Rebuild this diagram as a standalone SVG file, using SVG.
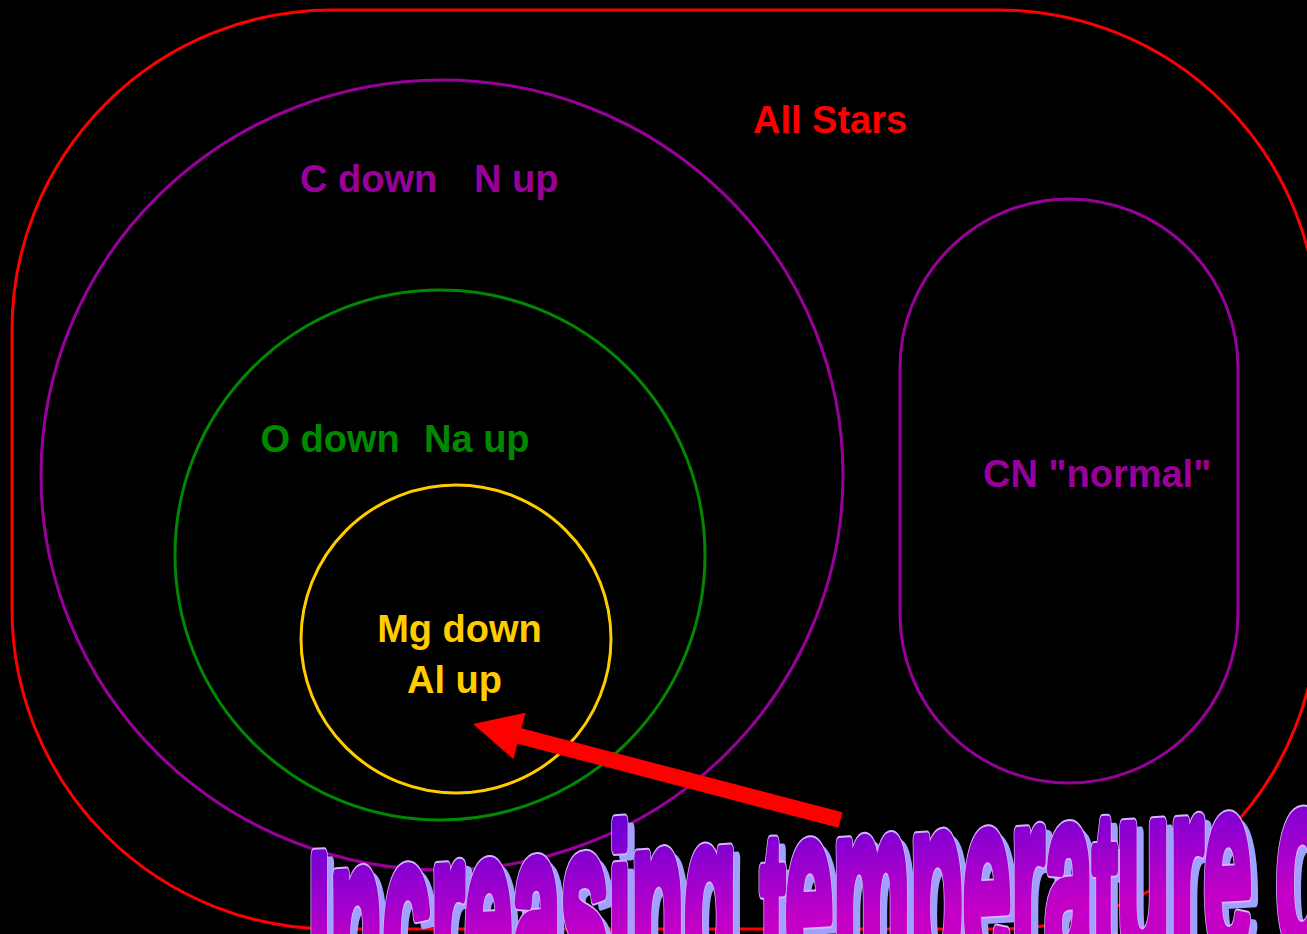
<svg xmlns="http://www.w3.org/2000/svg" width="1307" height="934" viewBox="0 0 1307 934">
<defs>
<style>
.sh{fill:none;stroke-width:3}
.lbl{font-family:"Liberation Sans",Arial,sans-serif;font-weight:bold;font-size:38px}
.wa{font-family:"Liberation Sans",Arial,sans-serif;font-weight:bold;font-size:254px;stroke-linejoin:round}
</style>
<linearGradient id="waGrad" gradientUnits="userSpaceOnUse" x1="0" y1="-170" x2="0" y2="-60">
<stop offset="0" stop-color="#6e00d6"/>
<stop offset="1" stop-color="#c400c6"/>
</linearGradient>
</defs>
<rect x="0" y="0" width="1307" height="934" fill="#000"/>
<g id="all-stars">
<rect class="sh" x="12" y="10" width="1306" height="919" rx="320" ry="320" stroke="#ff0000"/>
<text class="lbl" x="753" y="133" fill="#ff0000">All Stars</text>
</g>
<g id="cn-anomalous">
<ellipse class="sh" cx="442" cy="475" rx="401" ry="395" stroke="#990099"/>
<text class="lbl" x="300" y="192" fill="#990099">C down</text>
<text class="lbl" x="474" y="192" fill="#990099">N up</text>
</g>
<g id="ona">
<ellipse class="sh" cx="440" cy="555" rx="265" ry="265" stroke="#008800"/>
<text class="lbl" x="260.5" y="452" fill="#008800">O down</text>
<text class="lbl" x="424" y="452" fill="#008800">Na up</text>
</g>
<g id="mgal">
<ellipse class="sh" cx="456" cy="639" rx="155" ry="154" stroke="#ffcc00"/>
<text class="lbl" x="459.5" y="642" fill="#ffcc00" text-anchor="middle">Mg down</text>
<text class="lbl" x="454.5" y="693" fill="#ffcc00" text-anchor="middle">Al up</text>
</g>
<g id="cn-normal">
<rect class="sh" x="900" y="199" width="338" height="584" rx="169" ry="169" stroke="#990099"/>
<text class="lbl" x="983" y="487" fill="#990099">CN "normal"</text>
</g>
<g id="connectors">
<polygon points="842.5,812.3 521.5,728.3 525.6,712.8 473,724 513.4,759.2 517.5,743.7 838.5,827.7" fill="#ff0000"/>
</g>
<g id="wordart">
<g transform="translate(315.4,1019) skewY(-3.55) scale(0.3407,1)">
<text class="wa" x="0" y="0" fill="#a0a0ff" stroke="#a0a0ff" stroke-width="14"><tspan font-size="225">I</tspan>ncreas<tspan font-size="234">i</tspan>ng <tspan font-size="214">t</tspan>empera<tspan font-size="214">t</tspan>ure o</text>
</g>
<g transform="translate(308.4,1012) skewY(-3.55) scale(0.3407,1)">
<text class="wa" x="0" y="0" fill="#d4b4ff" stroke="#d4b4ff" stroke-width="18"><tspan font-size="225">I</tspan>ncreas<tspan font-size="234">i</tspan>ng <tspan font-size="214">t</tspan>empera<tspan font-size="214">t</tspan>ure o</text>
<text class="wa" x="0" y="0" fill="url(#waGrad)" stroke="url(#waGrad)" stroke-width="14"><tspan font-size="225">I</tspan>ncreas<tspan font-size="234">i</tspan>ng <tspan font-size="214">t</tspan>empera<tspan font-size="214">t</tspan>ure o</text>
</g>
</g>
</svg>
